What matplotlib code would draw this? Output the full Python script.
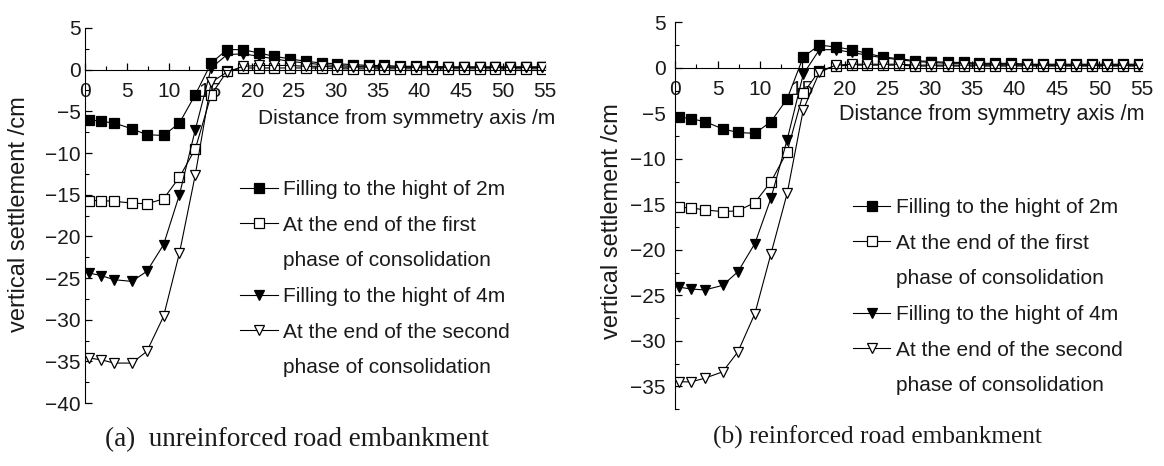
import numpy as np
import matplotlib.pyplot as plt
from matplotlib.lines import Line2D
from matplotlib.ticker import MultipleLocator

plt.rcParams['font.family'] = ['Liberation Sans', 'DejaVu Sans']

# distance from symmetry axis (m), same nodes for every curve
dist = [0.5, 1.9, 3.5, 5.6, 7.4, 9.4, 11.3, 13.2, 15.1, 17.0, 18.9, 20.8, 22.6, 24.5, 26.4,
        28.3, 30.2, 32.1, 34.0, 35.8, 37.7, 39.6, 41.5, 43.4, 45.3, 47.2, 49.1, 50.9, 52.8, 54.7]

# (a) unreinforced embankment, settlement in cm
a_fill2 = [-6.0, -6.2, -6.4, -7.1, -7.8, -7.9, -6.4, -3.0, 0.8, 2.4, 2.4, 2.0, 1.6, 1.3, 1.0,
           0.8, 0.7, 0.6, 0.5, 0.5, 0.4, 0.4, 0.4, 0.3, 0.3, 0.3, 0.3, 0.3, 0.3, 0.3]
a_cons1 = [-15.7, -15.7, -15.8, -16.0, -16.1, -15.5, -12.9, -9.5, -3.0, -0.2, 0.2, 0.2, 0.2, 0.2, 0.2,
           0.2, 0.1, 0.1, 0.1, 0.1, 0.1, 0.1, 0.1, 0.1, 0.1, 0.1, 0.1, 0.1, 0.1, 0.1]
a_fill4 = [-24.4, -24.7, -25.2, -25.4, -24.2, -21.0, -15.0, -7.2, 0.2, 1.8, 1.9, 1.6, 1.3, 1.0, 0.8,
           0.6, 0.5, 0.4, 0.4, 0.3, 0.3, 0.3, 0.3, 0.3, 0.3, 0.3, 0.3, 0.3, 0.3, 0.3]
a_cons2 = [-34.6, -34.8, -35.2, -35.2, -33.8, -29.6, -22.0, -12.6, -1.5, -0.3, 0.4, 0.5, 0.5, 0.5, 0.4,
           0.4, 0.3, 0.3, 0.3, 0.3, 0.3, 0.3, 0.3, 0.3, 0.3, 0.3, 0.3, 0.3, 0.3, 0.3]

# (b) reinforced embankment
b_fill2 = [-5.4, -5.6, -5.9, -6.7, -7.1, -7.2, -5.9, -3.4, 1.2, 2.5, 2.3, 2.0, 1.6, 1.2, 1.0,
           0.8, 0.7, 0.6, 0.6, 0.5, 0.5, 0.5, 0.4, 0.4, 0.4, 0.4, 0.4, 0.4, 0.4, 0.4]
b_cons1 = [-15.3, -15.4, -15.6, -15.8, -15.7, -14.8, -12.5, -9.2, -2.8, -0.3, 0.2, 0.3, 0.3, 0.3, 0.3,
           0.2, 0.2, 0.2, 0.2, 0.2, 0.2, 0.2, 0.2, 0.2, 0.2, 0.2, 0.2, 0.2, 0.2, 0.2]
b_fill4 = [-24.1, -24.3, -24.4, -23.9, -22.4, -19.3, -14.3, -7.9, -0.7, 2.0, 2.0, 1.7, 1.4, 1.1, 0.9,
           0.7, 0.6, 0.5, 0.5, 0.4, 0.4, 0.4, 0.4, 0.3, 0.3, 0.3, 0.3, 0.3, 0.3, 0.3]
b_cons2 = [-34.5, -34.5, -34.1, -33.4, -31.2, -27.0, -20.4, -13.8, -4.6, -0.5, 0.3, 0.4, 0.4, 0.4, 0.4,
           0.3, 0.3, 0.3, 0.3, 0.3, 0.3, 0.3, 0.3, 0.3, 0.3, 0.3, 0.3, 0.3, 0.3, 0.3]

labels = ['Filling to the hight of 2m', 'At the end of the first', 'phase of consolidation',
          'Filling to the hight of 4m', 'At the end of the second', 'phase of consolidation']
styles = [('s', 'black'), ('s', 'white'), ('v', 'black'), ('v', 'white')]

TXT = '#1a1a1a'

fig = plt.figure(figsize=(11.64, 4.66), dpi=100)
ax_a = fig.add_axes([0.073, 0.135, 0.395, 0.805])
ax_b = fig.add_axes([0.580, 0.122, 0.401, 0.830])


def draw(ax, series, ylim, ypad):
    for ys, (m, fc) in zip(series, styles):
        ax.plot(dist, ys, color='black', lw=0.8, marker=m, ms=7.5, mfc=fc, mec='black', mew=0.9)
    ax.set_xlim(0, 55)
    ax.set_ylim(*ylim)
    ax.spines['top'].set_visible(False)
    ax.spines['right'].set_visible(False)
    ax.spines['bottom'].set_position(('data', 0))
    ax.xaxis.set_major_locator(MultipleLocator(5))
    ax.xaxis.set_minor_locator(MultipleLocator(2.5))
    ax.yaxis.set_minor_locator(MultipleLocator(2.5))
    ax.tick_params(which='both', direction='in', labelsize=15, colors='black', labelcolor=TXT)
    ax.tick_params(which='major', length=5, width=0.9)
    ax.tick_params(which='minor', length=3, width=0.8)
    ax.tick_params(axis='x', pad=9)
    ax.tick_params(axis='y', pad=ypad)
    yt = np.arange(-40, 5.1, 5)
    yt = yt[yt >= ylim[0]]
    ax.set_yticks(yt)
    ax.set_yticklabels([f'{v:g}'.replace('-', '\u2212') for v in yt])
    ax.set_xticklabels([f'{v:g}' for v in ax.get_xticks()])


draw(ax_a, [a_fill2, a_cons1, a_fill4, a_cons2], (-40, 5), 3)
draw(ax_b, [b_fill2, b_cons1, b_fill4, b_cons2], (-37.5, 5), 7)

for ax, xy, fs in [(ax_a, (1.022, 0.758), 15), (ax_b, (1.006, 0.762), 15.5)]:
    ax.text(xy[0], xy[1], 'Distance from symmetry axis /m', transform=ax.transAxes,
            ha='right', va='center', fontsize=fs, color=TXT)

fig.text(0.016, 1 - 214 / 466, 'vertical settlement /cm', rotation=90, ha='center', va='center',
         fontsize=17, color=TXT)
fig.text(0.526, 1 - 221 / 466, 'vertical settlement /cm', rotation=90, ha='center', va='center',
         fontsize=17, color=TXT)


def make_legend(ax, anchor):
    handles = []
    for i, (m, fc) in enumerate(styles):
        handles.append(Line2D([], [], color='black', lw=0.8, marker=m, ms=7.5, mfc=fc,
                              mec='black', mew=0.9))
        if i in (1, 3):
            handles.append(Line2D([], [], lw=0, marker=None))
    ax.legend(handles, labels, loc='upper left', bbox_to_anchor=anchor,
              bbox_transform=fig.transFigure, frameon=False, fontsize=15,
              handlelength=1.8, handletextpad=0.25, labelspacing=0.8,
              borderpad=0, borderaxespad=0, labelcolor=TXT)


make_legend(ax_a, (240 / 1164, 1 - 180 / 466))
make_legend(ax_b, (853 / 1164, 1 - 198 / 466))

fig.text(297 / 1164, 1 - 440 / 466, '(a)  unreinforced road embankment', ha='center', va='center',
         fontsize=19.5, family='Liberation Serif', color=TXT)
fig.text(877 / 1164, 1 - 437 / 466, '(b) reinforced road embankment', ha='center', va='center',
         fontsize=18.3, family='Liberation Serif', color=TXT)

fig.savefig('out.png', dpi=100)
